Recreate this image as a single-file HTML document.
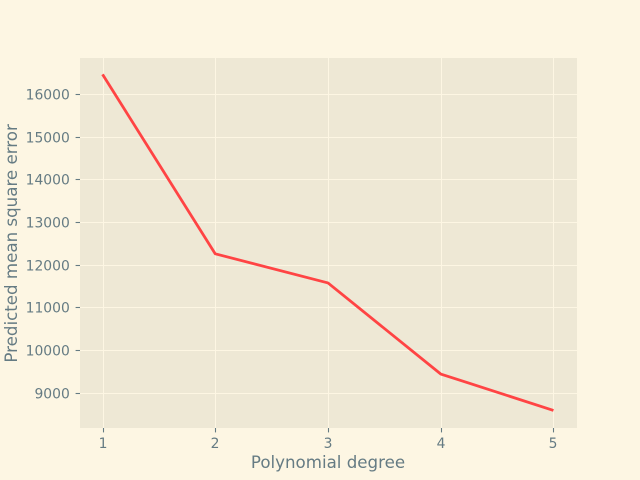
<!DOCTYPE html>
<html>
<head>
<meta charset="utf-8">
<style>
html,body{margin:0;padding:0;background:#fdf6e3;width:640px;height:480px;overflow:hidden}
svg{display:block}
text{font-family:"DejaVu Sans","Liberation Sans",sans-serif;fill:#657b83}
</style>
</head>
<body>
<svg id="chart" xmlns="http://www.w3.org/2000/svg" width="640" height="480" viewBox="0 0 640 480"></svg>
<script>
const degrees = [1, 2, 3, 4, 5];
const errors = [16456, 12255, 11574, 9441, 8589];
const xTickLabels = ['1', '2', '3', '4', '5'];
const yTickLabels = ['9000', '10000', '11000', '12000', '13000', '14000', '15000', '16000'];

const svg = document.getElementById('chart');
const L = 80, R = 576, T = 57.6, B = 427.2;
const NS = 'http://www.w3.org/2000/svg';

function make(tag, attrs, text) {
  const el = document.createElementNS(NS, tag);
  for (const k in attrs) el.setAttribute(k, attrs[k]);
  if (text !== undefined) el.textContent = text;
  svg.appendChild(el);
  return el;
}

const xMinD = Math.min(...degrees), xMaxD = Math.max(...degrees);
const yMinD = Math.min(...errors), yMaxD = Math.max(...errors);
const xPad = (xMaxD - xMinD) * 0.05, yPad = (yMaxD - yMinD) * 0.05;
function xScale(v) { return L + (v - (xMinD - xPad)) / ((xMaxD - xMinD) + 2 * xPad) * (R - L); }
function yScale(v) { return B - (v - (yMinD - yPad)) / ((yMaxD - yMinD) + 2 * yPad) * (B - T); }
function snap(p) { return Math.round(p) + 0.5; }

const bg = make('rect', {x: 80, y: 58, width: 497, height: 370, fill: '#eee8d5'});



xTickLabels.forEach(function (label) {
  const x = snap(xScale(Number(label)));
  const grid = make('line', {x1: x, x2: x, y1: 58, y2: 428, stroke: '#fdf6e3', 'stroke-width': 1});
  
  
  const tick = make('line', {x1: x, x2: x, y1: 428, y2: 432.4, stroke: '#657b83', 'stroke-width': 1.1});
  
  
  const t = make('text', {x: x - 0.5, y: 448, 'font-size': 13.89, 'text-anchor': 'middle'}, label);
  
  
});

yTickLabels.forEach(function (label) {
  const y = snap(yScale(Number(label)));
  const grid = make('line', {x1: 80, x2: 577, y1: y, y2: y, stroke: '#fdf6e3', 'stroke-width': 1});
  
  
  const tick = make('line', {x1: 75.6, x2: 80, y1: y, y2: y, stroke: '#657b83', 'stroke-width': 1.1});
  
  
  const t = make('text', {x: 69.8, y: y + 5, 'font-size': 13.89, 'text-anchor': 'end'}, label);
  
  
});

const pts = degrees.map(function (d, i) { return xScale(d) + ',' + yScale(errors[i]); }).join(' ');
const line = make('polyline', {points: pts, fill: 'none', stroke: '#ff4444', 'stroke-width': 2.78, 'stroke-linejoin': 'round', 'stroke-linecap': 'butt'});



const xTitle = make('text', {x: 328, y: 468, 'font-size': 16.67, 'text-anchor': 'middle'}, 'Polynomial degree');



const yTitle = make('text', {x: 0, y: 0, 'font-size': 16.67, 'text-anchor': 'middle', transform: 'translate(17 243.4) rotate(-90)'}, 'Predicted mean square error');


</script>
</body>
</html>
